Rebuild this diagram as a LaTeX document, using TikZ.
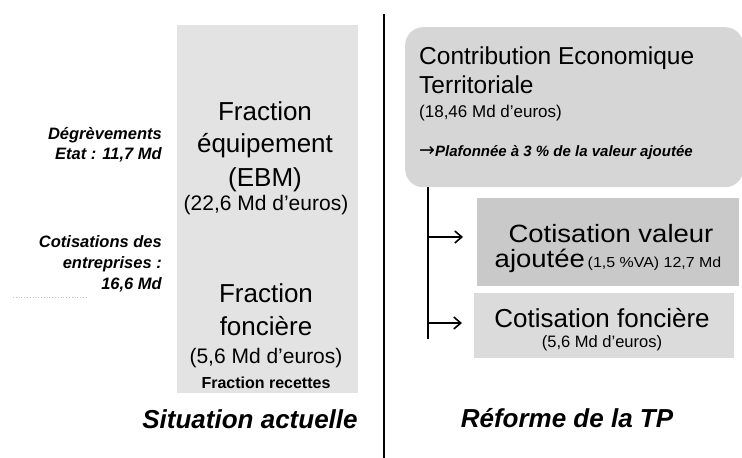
\documentclass[tikz,border=0pt]{standalone}
\usepackage{fontspec}
\setmainfont{Liberation Sans}
\newfontfamily\wfont{Liberation Sans}[FakeStretch=1.1]
\newfontfamily\arrfont{DejaVu Sans}
\usetikzlibrary{arrows.meta}
\newcommand{\fsz}[1]{\fontsize{#1}{#1}\selectfont}
\begin{document}
\begin{tikzpicture}[x=1pt,y=-1pt,
  txt/.style={inner sep=0pt,anchor=base},
  lbl/.style={inner sep=0pt,anchor=base east,font=\fsz{16.5}\bfseries\itshape},
  big/.style={txt,font=\fsz{26}},
  title/.style={txt,font=\fsz{26}\bfseries\itshape},
  panel/.style={draw=none,inner sep=0pt,anchor=north west},
  sep/.style={line width=2.2pt,black},
  tree/.style={line width=2.5pt,black},
  branch/.style={line width=1.3pt,black,-{Straight Barb[length=7pt,width=12pt,line width=1.6pt]}}
]
\useasboundingbox (0,0) rectangle (742,458);
\fill[white] (0,0) rectangle (742,458);

% left panel
\node[panel,fill=gray!22,minimum width=181pt,minimum height=368pt] (lb) at (177,25) {};
\node[big] (f1) at (265,120) {Fraction};
\node[big] (f2) at (265,152) {équipement};
\node[big] (f3) at (265,186) {(EBM)};
\node[txt,font=\fsz{21}] (f4) at (266,210) {(22,6 Md d'euros)};
\node[big] (g1) at (266,302) {Fraction};
\node[big] (g2) at (266,335) {foncière};
\node[txt,font=\fsz{21}] (g3) at (266,363) {(5,6 Md d'euros)};
\node[txt,font=\fsz{16}\bfseries] (g4) at (266,388) {Fraction recettes};
\node[title] (sa) at (250,428) {Situation actuelle};

% left labels
\node[lbl] (d1) at (162,139) {Dégrèvements};
\node[lbl] (d2) at (162,159) {Etat : 11,7 Md};
\node[lbl] (c1) at (162,247) {Cotisations des};
\node[lbl] (c2) at (162,268) {entreprises :};
\node[lbl] (c3) at (162,289) {16,6 Md};
\coordinate (dl0) at (13,297);
\coordinate (dl1) at (88,297);
\draw[gray!45,dotted,line width=0.8pt] (dl0) -- (dl1);

% separator
\coordinate (s0) at (384,14);
\coordinate (s1) at (384,458);
\draw[sep] (s0) -- (s1);

% CET box
\node[panel,fill=gray!32,rounded corners=18pt,minimum width=338pt,minimum height=160pt] (cet) at (405,27) {};
\node[txt,anchor=base west,font=\fsz{24.5}] (ct1) at (419,64) {Contribution Economique};
\node[txt,anchor=base west,font=\fsz{24.5}] (ct2) at (419,93) {Territoriale};
\node[txt,anchor=base west,font=\fsz{17}] (ct3) at (419,117) {(18,46 Md d'euros)};
\node[txt,anchor=base west,font=\fsz{15}\bfseries\itshape] (ct4) at (419,156) {{\arrfont\mdseries\upshape\fontsize{19}{19}\selectfont →}Plafonnée à 3 \% de la valeur ajoutée};

% sub boxes
\node[panel,fill=gray!42,minimum width=262pt,minimum height=88pt] (cva) at (477,198) {};
\node[txt,font=\wfont\fsz{25}] (cv1) at (611,242) {Cotisation valeur};
\node[txt] (cv2) at (608,267) {{\wfont\fsz{25}ajoutée} {\wfont\fsz{14.5}(1,5 \%VA) 12,7 Md}};
\node[panel,fill=gray!28,minimum width=260pt,minimum height=65pt] (cf) at (474,293) {};
\node[txt,font=\fsz{26}] (cf1) at (602,327) {Cotisation foncière};
\node[txt,font=\fsz{16.5}] (cf2) at (602,347) {(5,6 Md d'euros)};

% tree
\coordinate (t0) at (cet.south -| 428,0);
\coordinate (t1) at (428,339);
\draw[tree] (t0) -- (t1);
\coordinate (a1s) at (428,237);
\coordinate (a1e) at (463,237);
\coordinate (a2s) at (428,323);
\coordinate (a2e) at (462,323);
\draw[branch] (a1s) -- (a1e);
\draw[branch] (a2s) -- (a2e);

\node[title] (rt) at (567,427) {Réforme de la TP};
\end{tikzpicture}
\end{document}
